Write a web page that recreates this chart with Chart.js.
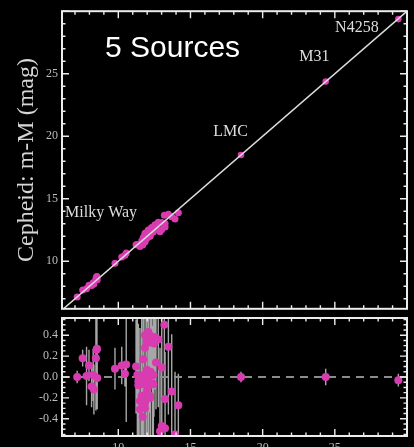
<!DOCTYPE html>
<html>
<head>
<meta charset="utf-8">
<script src="https://cdn.jsdelivr.net/npm/chart.js@4.4.1/dist/chart.umd.min.js"></script>
<style>
  html, body { margin: 0; padding: 0; background: #000; width: 414px; height: 447px; overflow: hidden; }
  canvas { position: absolute; left: 0; }
  #main { top: 0; }
  #resid { top: 300px; }
</style>
</head>
<body>
<canvas id="main" width="414" height="320"></canvas>
<canvas id="resid" width="414" height="170"></canvas>
<script>
// Milky Way Cepheids: independent distance modulus, Cepheid distance modulus,
// their difference and the 1-sigma error of the difference (mag)
const mwDist = [
  7.15, 7.53, 7.80, 7.97, 8.15, 8.26, 8.31, 8.45, 8.50, 8.52, 8.54,
  9.77, 10.24, 10.55, 10.46,
  11.23, 11.32, 11.39, 11.39, 11.50, 11.50, 11.62, 11.62, 11.69, 11.73,
  11.73, 11.73, 11.85, 11.85, 11.85, 11.85, 11.85, 11.97, 11.97, 11.97,
  12.08, 12.08, 12.08, 12.15, 12.20, 12.20, 12.20, 12.24, 12.31, 12.38,
  12.43, 12.43, 12.47, 12.54, 12.61, 12.77, 12.89, 13.01, 13.01, 13.19,
  13.24, 13.24, 13.47, 13.70, 13.93, 14.16
];
const mwCeph = [
  7.15, 7.71, 7.81, 8.08, 8.06, 8.28, 8.19, 8.63, 8.76, 8.79, 8.53,
  9.85, 10.35, 10.67, 10.49,
  11.33, 11.34, 11.35, 11.31, 11.27, 11.19, 11.63, 11.44, 11.31, 11.90,
  11.70, 11.66, 12.25, 12.13, 11.88, 11.60, 11.55, 12.31, 12.04, 11.83,
  12.51, 12.04, 11.99, 12.16, 12.53, 12.02, 12.00, 12.29, 12.70, 12.32,
  12.45, 12.36, 12.79, 12.92, 12.75, 13.13, 12.37, 13.10, 12.54, 13.69,
  13.03, 12.75, 13.76, 13.56, 13.38, 13.89
];
const mwResid = [
  0.00, 0.18, 0.01, 0.11, -0.09, 0.02, -0.12, 0.18, 0.26, 0.27, -0.01,
  0.08, 0.11, 0.12, 0.03,
  0.10, 0.02, -0.04, -0.08, -0.23, -0.31, 0.01, -0.18, -0.38, 0.17,
  -0.03, -0.07, 0.40, 0.28, 0.03, -0.25, -0.30, 0.34, 0.07, -0.14,
  0.43, -0.04, -0.09, 0.01, 0.33, -0.18, -0.20, 0.05, 0.39, -0.06,
  0.02, -0.07, 0.32, 0.38, 0.14, 0.36, -0.52, 0.09, -0.47, 0.50,
  -0.21, -0.49, 0.29, -0.14, -0.55, -0.27
];
const mwErr = [
  0.06, 0.08, 0.28, 0.15, 0.20, 0.25, 0.24, 0.50, 0.42, 0.30, 0.30,
  0.20, 0.18, 0.55, 0.12,
  0.45, 0.60, 0.55, 0.35, 0.70, 0.50, 0.65, 0.40, 0.45, 0.60,
  0.80, 0.30, 0.55, 0.70, 0.75, 0.50, 0.65, 0.60, 0.45, 0.80,
  0.70, 0.50, 0.65, 0.35, 0.55, 0.60, 0.40, 0.75, 0.45, 0.55,
  0.60, 0.35, 0.70, 0.50, 0.45, 0.65, 0.80, 0.55, 0.60, 0.75,
  0.45, 0.70, 0.65, 0.55, 0.60, 0.30
];

// Extragalactic anchors
const galName  = ['LMC', 'M31', 'N4258'];
const galDist  = [18.50, 24.37, 29.40];
const galCeph  = [18.50, 24.37, 29.37];
const galResid = [0.00, 0.00, -0.03];
const galErr   = [0.05, 0.08, 0.06];

// Tick labels
const distTicks  = [10, 15, 20, 25];
const cephTicks  = [10, 15, 20, 25];
const residTicks = [-0.4, -0.2, 0.0, 0.2, 0.4];

const DIST_MIN = 6.1, DIST_MAX = 30;
const MAGENTA = '#d83cb0';
const LABEL_GREY = '#bdbdbd';
const SERIF = '"Liberation Serif", "Times New Roman", serif';

const toPoints = (xs, ys) => xs.map((x, i) => ({ x, y: ys[i] }));

// Plot frame with inward-pointing major and minor ticks on all four sides
function framePlugin(xMinor, xMajor, yMinor, yMajor) {
  return {
    id: 'frame',
    afterDraw(chart) {
      const { ctx, chartArea: a, scales: { x, y } } = chart;
      ctx.save();
      ctx.strokeStyle = '#ececec';
      ctx.lineWidth = 1.4;
      const each = (scale, step, major, fn) => {
        const k0 = Math.ceil(scale.min / step - 1e-9), k1 = Math.floor(scale.max / step + 1e-9);
        const ratio = Math.round(major / step);
        for (let k = k0; k <= k1; k++) fn(scale.getPixelForValue(k * step), k % ratio === 0);
      };
      ctx.beginPath();
      each(x, xMinor, xMajor, (px, big) => {
        const L = big ? 7 : 3.5;
        ctx.moveTo(px, a.top); ctx.lineTo(px, a.top + L);
        ctx.moveTo(px, a.bottom); ctx.lineTo(px, a.bottom - L);
      });
      each(y, yMinor, yMajor, (py, big) => {
        const L = big ? 7 : 3.5;
        ctx.moveTo(a.left, py); ctx.lineTo(a.left + L, py);
        ctx.moveTo(a.right, py); ctx.lineTo(a.right - L, py);
      });
      ctx.stroke();
      ctx.lineWidth = 2;
      ctx.strokeRect(a.left, a.top, a.right - a.left, a.bottom - a.top);
      ctx.restore();
    }
  };
}

// Text annotations placed in data coordinates
const annotations = {
  id: 'annotations',
  afterDatasetsDraw(chart) {
    const { ctx, scales: { x, y } } = chart;
    ctx.save();
    ctx.textAlign = 'left';
    ctx.textBaseline = 'middle';
    ctx.fillStyle = '#ffffff';
    ctx.font = '30px "Liberation Sans", Arial, sans-serif';
    ctx.fillText('5 Sources', x.getPixelForValue(9.08), y.getPixelForValue(26.96));
    ctx.fillStyle = '#dedede';
    ctx.font = '16px ' + SERIF;
    const names = ['Milky Way'].concat(galName);
    const at = [[6.31, 13.88], [16.58, 20.33], [22.54, 26.37], [25.02, 28.67]];
    names.forEach((n, i) => ctx.fillText(n, x.getPixelForValue(at[i][0]), y.getPixelForValue(at[i][1])));
    ctx.restore();
  }
};

// Vertical error bars of the residuals
const errorBars = {
  id: 'errorBars',
  beforeDatasetsDraw(chart) {
    const { ctx, chartArea: a, scales: { x, y } } = chart;
    ctx.save();
    ctx.beginPath();
    ctx.rect(a.left, a.top, a.right - a.left, a.bottom - a.top);
    ctx.clip();
    ctx.strokeStyle = 'rgba(214,214,214,0.78)';
    ctx.lineWidth = 1.4;
    ctx.beginPath();
    const bar = (xv, rv, ev) => {
      const px = x.getPixelForValue(xv);
      ctx.moveTo(px, y.getPixelForValue(rv - ev));
      ctx.lineTo(px, y.getPixelForValue(rv + ev));
    };
    mwDist.forEach((d, i) => bar(d, mwResid[i], mwErr[i]));
    galDist.forEach((d, i) => bar(d, galResid[i], galErr[i]));
    ctx.stroke();
    ctx.restore();
  }
};

const tickFont = { family: SERIF, size: 12 };

// Upper panel: Cepheid distance modulus against the independent one
new Chart(document.getElementById('main'), {
  type: 'scatter',
  data: {
    datasets: [
      { data: [{ x: DIST_MIN, y: DIST_MIN }, { x: DIST_MAX, y: DIST_MAX }], showLine: true,
        borderColor: '#dcdcdc', borderWidth: 1.5, pointRadius: 0 },
      { data: toPoints(mwDist, mwCeph), backgroundColor: MAGENTA, borderWidth: 0, pointRadius: 3.5 },
      { data: toPoints(galDist, galCeph), backgroundColor: MAGENTA, borderWidth: 0, pointRadius: 3.3 }
    ]
  },
  options: {
    responsive: false, animation: false, events: [],
    layout: { padding: { left: 0, right: 7, top: 6, bottom: 4 } },
    plugins: { legend: { display: false }, tooltip: { enabled: false } },
    scales: {
      x: { type: 'linear', display: false, min: DIST_MIN, max: DIST_MAX },
      y: {
        type: 'linear', min: 6.2, max: 30,
        afterFit: s => { s.width = 62; },
        afterBuildTicks: s => { s.ticks = cephTicks.map(v => ({ value: v })); },
        grid: { display: false, drawTicks: false }, border: { display: false },
        ticks: { color: LABEL_GREY, font: tickFont, padding: 4 },
        title: { display: true, text: 'Cepheid: m-M (mag)', color: '#d6d6d6',
                 font: { family: SERIF, size: 24 }, padding: { top: 12, bottom: 0 } }
      }
    }
  },
  plugins: [framePlugin(1, 5, 1, 5), annotations]
});

// Lower panel: residuals
new Chart(document.getElementById('resid'), {
  type: 'scatter',
  data: {
    datasets: [
      { data: toPoints(mwDist, mwResid), backgroundColor: MAGENTA, borderWidth: 0, pointRadius: 4 },
      { data: toPoints(galDist, galResid), backgroundColor: MAGENTA, borderWidth: 0, pointRadius: 4 },
      { data: [{ x: DIST_MIN, y: 0 }, { x: DIST_MAX, y: 0 }], showLine: true,
        borderColor: '#8c8c8c', borderWidth: 2, borderDash: [8, 6], pointRadius: 0 }
    ]
  },
  options: {
    responsive: false, animation: false, events: [],
    layout: { padding: { left: 0, right: 7, top: 18, bottom: 0 } },
    plugins: { legend: { display: false }, tooltip: { enabled: false } },
    scales: {
      x: {
        type: 'linear', min: DIST_MIN, max: DIST_MAX,
        afterFit: s => { s.height = 34; },
        afterBuildTicks: s => { s.ticks = distTicks.map(v => ({ value: v })); },
        grid: { display: false, drawTicks: false }, border: { display: false },
        ticks: { color: LABEL_GREY, font: tickFont, padding: 5, maxRotation: 0 }
      },
      y: {
        type: 'linear', min: -0.565, max: 0.565,
        afterFit: s => { s.width = 62; },
        afterBuildTicks: s => { s.ticks = residTicks.map(v => ({ value: v })); },
        grid: { display: false, drawTicks: false }, border: { display: false },
        ticks: { color: LABEL_GREY, font: tickFont, padding: 4, callback: v => v.toFixed(1) }
      }
    }
  },
  plugins: [errorBars, framePlugin(1, 5, 0.05, 0.2)]
});
</script>
</body>
</html>
